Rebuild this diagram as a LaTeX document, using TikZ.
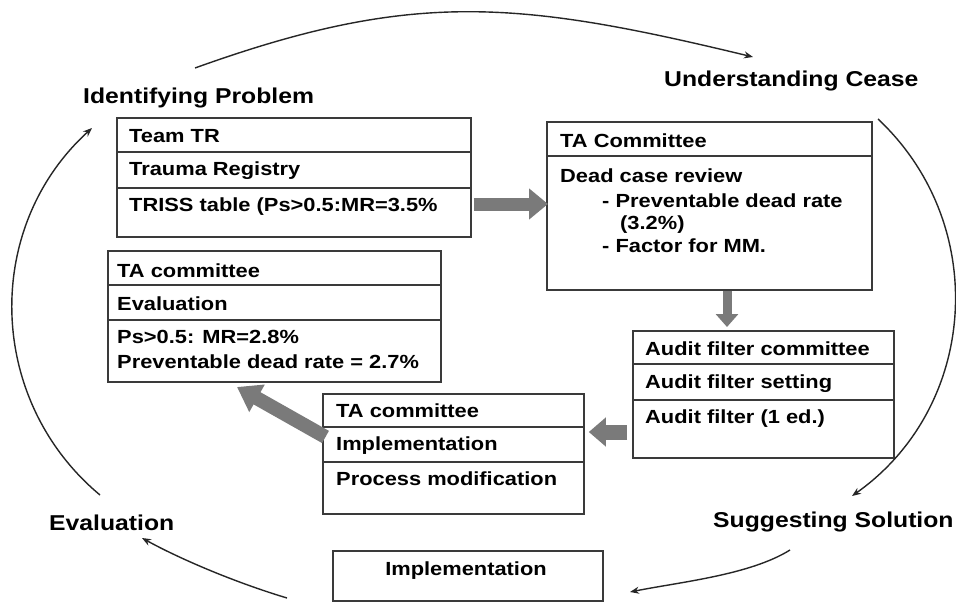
\documentclass[tikz,border=0pt]{standalone}
\usepackage{fontspec}
\setmainfont{Liberation Sans}
\newfontfamily\widesans[FakeStretch=1.15]{Liberation Sans}
\usetikzlibrary{arrows.meta}
\definecolor{ag}{HTML}{7A7A7A}
\definecolor{bl}{HTML}{3A3A3A}
\begin{document}
\begin{tikzpicture}[x=1pt,y=-1pt,
  boxline/.style={draw=bl, line width=1.8pt},
  box/.style={boxline, fill=white, inner sep=0pt, anchor=north west},
  txt/.style={anchor=base west, inner sep=0pt, font=\fontsize{19}{22}\widesans\bfseries},
  lab/.style={anchor=base west, inner sep=0pt, font=\fontsize{21.5}{26}\widesans\bfseries},
  cyc/.style={line width=1.4pt, draw=black!85, -{Stealth[length=9pt,width=7pt]}},
  fat/.style={draw=ag, line cap=butt}
]
\path[use as bounding box, fill=white] (0,0) rectangle (956,602);

% cycle labels
\node[lab] (lid) at (83,103) {Identifying Problem};
\node[lab] (lun) at (664,86) {Understanding Cease};
\node[lab] (lsu) at (713,527) {Suggesting Solution};
\node[lab] (lev) at (49,530) {Evaluation};

% boxes
\node[box, minimum width=354pt, minimum height=119pt] (b1) at (116,117) {};
\node[box, minimum width=325pt, minimum height=168pt] (b2) at (546,121) {};
\node[box, minimum width=333pt, minimum height=131pt] (b3) at (107,250) {};
\node[box, minimum width=261pt, minimum height=120pt] (b4) at (322,393) {};
\node[box, minimum width=261pt, minimum height=127pt] (b5) at (632,330) {};
\node[box, minimum width=270pt, minimum height=50pt] (b6) at (332,550) {};

% separators
\draw[boxline] (b1.west |- 0,152) -- (b1.east |- 0,152);
\draw[boxline] (b1.west |- 0,188) -- (b1.east |- 0,188);
\draw[boxline] (b2.west |- 0,156) -- (b2.east |- 0,156);
\draw[boxline] (b3.west |- 0,285) -- (b3.east |- 0,285);
\draw[boxline] (b3.west |- 0,320) -- (b3.east |- 0,320);
\draw[boxline] (b4.west |- 0,427) -- (b4.east |- 0,427);
\draw[boxline] (b4.west |- 0,462) -- (b4.east |- 0,462);
\draw[boxline] (b5.west |- 0,364) -- (b5.east |- 0,364);
\draw[boxline] (b5.west |- 0,400) -- (b5.east |- 0,400);

% box texts
\node[txt] (t11) at (129,142) {Team TR};
\node[txt] (t12) at (129,175) {Trauma Registry};
\node[txt] (t13) at (129,211) {TRISS table (Ps>0.5:MR=3.5\%};

\node[txt] (t21) at (560,147) {TA Committee};
\node[txt] (t22) at (560,182) {Dead case review};
\node[txt] (t23) at (602,207) {- Preventable dead rate};
\node[txt] (t24) at (620,229) {(3.2\%)};
\node[txt] (t25) at (602,252) {- Factor for MM.};

\node[txt] (t31) at (117,277) {TA committee};
\node[txt] (t32) at (117,310) {Evaluation};
\node[txt] (t33) at (117,343) {Ps>0.5: MR=2.8\%};
\node[txt] (t34) at (117,368) {Preventable dead rate = 2.7\%};

\node[txt] (t41) at (336,417) {TA committee};
\node[txt] (t42) at (336,450) {Implementation};
\node[txt] (t43) at (336,485) {Process modification};

\node[txt] (t51) at (645,355) {Audit filter committee};
\node[txt] (t52) at (645,388) {Audit filter setting};
\node[txt] (t53) at (645,423) {Audit filter (1 ed.)};

\node[txt, anchor=base] (t61) at (466,575) {Implementation};

% thick gray arrows
\coordinate (a1) at (0,204);
\coordinate (a2) at (727,0);
\coordinate (a3) at (0,432);
\coordinate (a4) at (0,435);
\coordinate (e4) at (237,387);
\draw[fat, line width=13pt, -{Triangle[width=30pt,length=19pt]}, shorten <=2pt, shorten >=-2pt] (b1.east |- a1) -- (b2.west |- a1);
\draw[fat, line width=9pt, -{Triangle[width=22pt,length=13pt]}, shorten >=3pt] (b2.south -| a2) -- (b5.north -| a2);
\draw[fat, line width=15pt, -{Triangle[width=28pt,length=17pt]}, shorten <=5pt, shorten >=4pt] (b5.west |- a3) -- (b4.east |- a3);
\draw[fat, line width=14pt, -{Triangle[width=30pt,length=23pt]}, shorten <=-4pt] (b4.west |- a4) -- (e4);

% cycle arcs
\coordinate (c1s) at (195,68);  \coordinate (c1e) at (753,57);
\coordinate (c2s) at (878,119); \coordinate (c2e) at (852,496);
\coordinate (c3s) at (790,550); \coordinate (c3e) at (630,592);
\coordinate (c4s) at (287,598); \coordinate (c4e) at (142,538);
\coordinate (c5s) at (100,495); \coordinate (c5e) at (92,128);
\draw[cyc] (c1s) .. controls +(217,-78) and +(-236,-57) .. (c1e);
\draw[cyc] (c2s) .. controls +(112.6,105.8) and +(126.1,-89.3) .. (c2e);
\draw[cyc] (c3s) .. controls +(-40,25) and +(50,-10) .. (c3e);
\draw[cyc] (c4s) .. controls +(-50,-15) and +(40,22) .. (c4e);
\draw[cyc] (c5s) .. controls +(-113.5,-94.6) and +(-109.4,99.5) .. (c5e);
\end{tikzpicture}
\end{document}
